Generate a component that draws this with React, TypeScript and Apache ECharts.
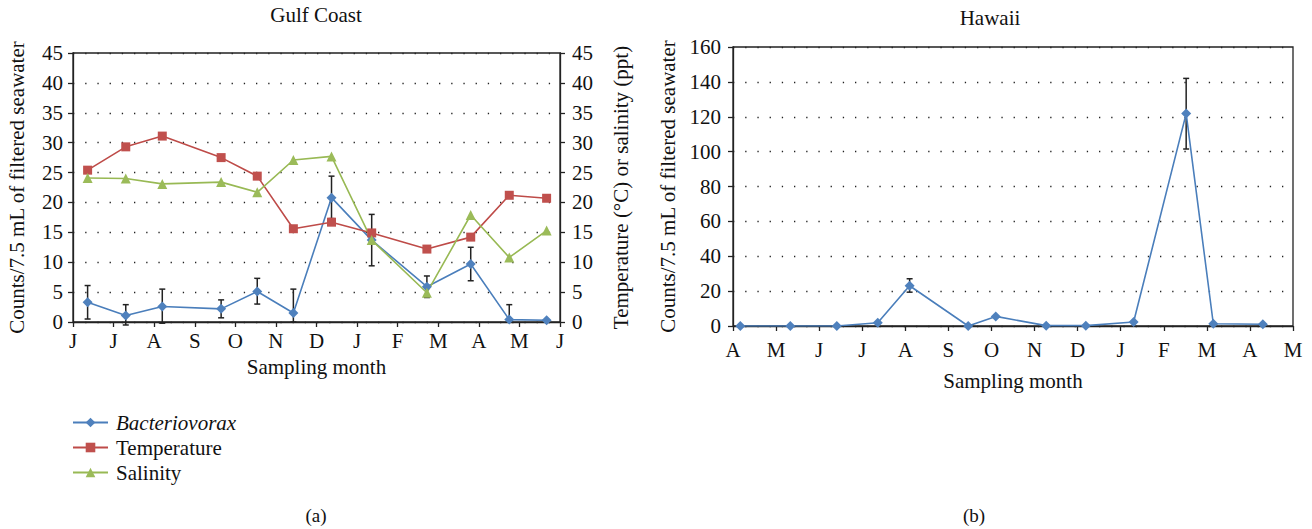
import React, { useEffect, useRef } from "react";
import * as echarts from "echarts";

const gulfMonthLabels = ["J", "J", "A", "S", "O", "N", "D", "J", "F", "M", "A", "M", "J"];
const hawaiiMonthLabels = ["A", "M", "J", "J", "A", "S", "O", "N", "D", "J", "F", "M", "A", "M"];

const gulfX = [0.36, 1.3, 2.2, 3.65, 4.54, 5.43, 6.37, 7.36, 8.72, 9.8, 10.75, 11.67];
const gulfBacteriovorax = [3.3, 1.1, 2.6, 2.2, 5.1, 1.5, 20.8, 13.7, 5.9, 9.7, 0.4, 0.3];
const gulfBactLow = [0.5, -0.5, -0.2, 0.7, 3.0, 0, 17.3, 9.4, 4.1, 6.9, 0, 0.3];
const gulfBactHigh = [6.1, 2.9, 5.5, 3.7, 7.3, 5.5, 24.4, 18.0, 7.7, 12.5, 2.9, 0.3];
const gulfTemperature = [25.4, 29.3, 31.1, 27.5, 24.4, 15.6, 16.7, 14.9, 12.2, 14.2, 21.2, 20.7];
const gulfSalinity = [24.1, 24.0, 23.1, 23.4, 21.7, 27.1, 27.7, 13.7, 4.9, 17.9, 10.8, 15.3];

const hawaiiX = [0.17, 1.33, 2.41, 3.36, 4.1, 5.46, 6.1, 7.27, 8.19, 9.3, 10.52, 11.15, 12.3];
const hawaiiBacteriovorax = [0, 0, 0, 1.9, 23.1, 0, 5.5, 0.2, 0.2, 2.3, 121.8, 1.3, 1.0];
const hawaiiBactLow = [0, 0, 0, 1.9, 19.4, 0, 5.5, 0.2, 0.2, 2.3, 101.5, 1.3, 1.0];
const hawaiiBactHigh = [0, 0, 0, 1.9, 27.1, 0, 5.5, 0.2, 0.2, 2.3, 142.0, 1.3, 1.0];

const FONT = "Liberation Serif";
const FS = 21;
const AXIS_COLOR = "#222";
const TEXT = "#111";
const BLUE_LINE = "#4A7EBB";
const BLUE = "#4F81BD";
const RED_LINE = "#BE4B48";
const RED = "#C0504D";
const GREEN_LINE = "#98B954";
const GREEN = "#9BBB59";

const pairs = (xs: number[], ys: number[]) => xs.map((x, i) => [x, ys[i]]);
const errTriples = (xs: number[], lo: number[], hi: number[]) =>
  xs.map((x, i) => [x, lo[i], hi[i]]).filter((d) => d[2] - d[1] > 0.01);

const errorBarRender = (params: any, api: any) => {
  const x = api.value(0);
  const lo = api.coord([x, api.value(1)]);
  const hi = api.coord([x, api.value(2)]);
  const cap = 3;
  const style = { stroke: "#222", lineWidth: 1.5 };
  return {
    type: "group",
    children: [
      { type: "line", shape: { x1: hi[0], y1: hi[1], x2: lo[0], y2: lo[1] }, style },
      { type: "line", shape: { x1: hi[0] - cap, y1: hi[1], x2: hi[0] + cap, y2: hi[1] }, style },
      { type: "line", shape: { x1: lo[0] - cap, y1: lo[1], x2: lo[0] + cap, y2: lo[1] }, style },
    ],
  };
};

const dotted = { type: [1.3, 10.9], color: "#222", width: 1.4 };

export default function App() {
  const ref = useRef<HTMLDivElement>(null);
  useEffect(() => {
    document.body.style.margin = "0";
    const chart = echarts.init(ref.current!, undefined, { renderer: "svg" });
    const axisLine = { show: true, lineStyle: { color: AXIS_COLOR, width: 1.3 } };
    const axisTick = { show: true, inside: false, length: 5, lineStyle: { color: AXIS_COLOR, width: 1.3 } };
    const lbl = { fontSize: FS, fontFamily: FONT, color: TEXT };
    const option: any = {
      animation: false,
      textStyle: { fontFamily: FONT, color: TEXT },
      grid: [
        { left: 73, top: 53, width: 487, height: 269, show: true, borderColor: AXIS_COLOR, borderWidth: 1.3 },
        { left: 733, top: 47, width: 560, height: 279, show: true, borderColor: AXIS_COLOR, borderWidth: 1.3 },
      ],
      xAxis: [
        {
          type: "value", gridIndex: 0, min: 0, max: 12, interval: 1,
          axisLine, axisTick, splitLine: { show: false },
          axisLabel: { ...lbl, margin: 8, formatter: (v: number) => gulfMonthLabels[Math.round(v)] ?? "" },
          name: "Sampling month", nameLocation: "middle", nameGap: 34,
          nameTextStyle: lbl,
        },
        {
          type: "value", gridIndex: 1, min: 0, max: 13, interval: 1,
          axisLine, axisTick, splitLine: { show: false },
          axisLabel: { ...lbl, margin: 13, formatter: (v: number) => hawaiiMonthLabels[Math.round(v)] ?? "" },
          name: "Sampling month", nameLocation: "middle", nameGap: 44,
          nameTextStyle: lbl,
        },
      ],
      yAxis: [
        {
          type: "value", gridIndex: 0, min: 0, max: 45, interval: 5, position: "left",
          axisLine, axisTick, splitLine: { show: true, lineStyle: dotted },
          axisLabel: { ...lbl, margin: 10 },
          name: "Counts/7.5 mL of filtered seawater", nameLocation: "middle", nameGap: 46,
          nameTextStyle: lbl,
        },
        {
          type: "value", gridIndex: 0, min: 0, max: 45, interval: 5, position: "right",
          axisLine, axisTick, splitLine: { show: false },
          axisLabel: { ...lbl, margin: 12 },
          name: "Temperature (°C) or salinity (ppt)", nameLocation: "middle", nameGap: 50,
          nameTextStyle: lbl,
        },
        {
          type: "value", gridIndex: 1, min: 0, max: 160, interval: 20, position: "left",
          axisLine, axisTick, splitLine: { show: true, lineStyle: dotted },
          axisLabel: { ...lbl, margin: 12 },
          name: "Counts/7.5 mL of filtered seawater", nameLocation: "middle", nameGap: 55,
          nameTextStyle: lbl,
        },
      ],
      legend: {
        data: ["Bacteriovorax", "Temperature", "Salinity"],
        orient: "vertical", left: 72, top: 412, padding: 0, itemWidth: 35, itemHeight: 12, itemGap: 4,
        textStyle: {
          fontSize: FS, lineHeight: 21, fontFamily: FONT, color: TEXT, padding: [0, 0, 0, 3],
          rich: { i: { fontStyle: "italic", fontSize: FS, fontFamily: FONT, color: TEXT } },
        },
        formatter: (name: string) => (name === "Bacteriovorax" ? `{i|${name}}` : name),
      },
      graphic: [
        { type: "text", x: 316, y: 15, style: { text: "Gulf Coast", font: `${FS}px '${FONT}'`, fill: TEXT, textAlign: "center", textVerticalAlign: "middle" } },
        { type: "text", x: 990, y: 18, style: { text: "Hawaii", font: `${FS}px '${FONT}'`, fill: TEXT, textAlign: "center", textVerticalAlign: "middle" } },
        { type: "text", x: 316, y: 515, style: { text: "(a)", font: `19px '${FONT}'`, fill: TEXT, textAlign: "center", textVerticalAlign: "middle" } },
        { type: "text", x: 974, y: 515, style: { text: "(b)", font: `19px '${FONT}'`, fill: TEXT, textAlign: "center", textVerticalAlign: "middle" } },
      ],
      series: [
        {
          name: "Bacteriovorax", type: "line", xAxisIndex: 0, yAxisIndex: 0,
          data: pairs(gulfX, gulfBacteriovorax),
          symbol: "diamond", symbolSize: 10, color: BLUE,
          lineStyle: { color: BLUE_LINE, width: 1.6 }, itemStyle: { color: BLUE },
        },
        {
          name: "Gulf error", type: "custom", xAxisIndex: 0, yAxisIndex: 0,
          data: errTriples(gulfX, gulfBactLow, gulfBactHigh),
          encode: { x: 0, y: [1, 2] }, renderItem: errorBarRender, z: 3,
        },
        {
          name: "Temperature", type: "line", xAxisIndex: 0, yAxisIndex: 1,
          data: pairs(gulfX, gulfTemperature),
          symbol: "rect", symbolSize: 9, color: RED,
          lineStyle: { color: RED_LINE, width: 1.6 }, itemStyle: { color: RED },
        },
        {
          name: "Salinity", type: "line", xAxisIndex: 0, yAxisIndex: 1,
          data: pairs(gulfX, gulfSalinity),
          symbol: "triangle", symbolSize: 10, color: GREEN,
          lineStyle: { color: GREEN_LINE, width: 1.6 }, itemStyle: { color: GREEN },
        },
        {
          name: "Hawaii Bacteriovorax", type: "line", xAxisIndex: 1, yAxisIndex: 2,
          data: pairs(hawaiiX, hawaiiBacteriovorax),
          symbol: "diamond", symbolSize: 10, color: BLUE,
          lineStyle: { color: BLUE_LINE, width: 1.6 }, itemStyle: { color: BLUE },
        },
        {
          name: "Hawaii error", type: "custom", xAxisIndex: 1, yAxisIndex: 2,
          data: errTriples(hawaiiX, hawaiiBactLow, hawaiiBactHigh),
          encode: { x: 0, y: [1, 2] }, renderItem: errorBarRender, z: 3,
        },
      ],
    };
    chart.setOption(option);
    return () => chart.dispose();
  }, []);
  return <div ref={ref} style={{ width: 1312, height: 529 }} />;
}
